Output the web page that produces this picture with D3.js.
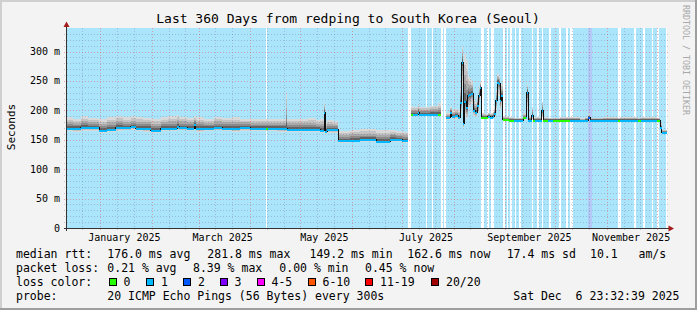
<!DOCTYPE html>
<html>
<head>
<meta charset="utf-8">
<script src="https://cdn.jsdelivr.net/npm/d3@7"></script>
<style>
  body { margin: 0; background: #fff; }
  text { font-family: "DejaVu Sans Mono", monospace; white-space: pre; }
</style>
</head>
<body>
<div id="chart"></div>
<script>
// DATA (days are counted from the left edge of the graph, 360 days before "now")

const sampleDay = [
  0, 3.6, 8.2, 12.6, 19.2, 24, 29.2, 33.6, 38.2, 41.2, 45.6, 50.2, 56.2, 60.6, 66.2, 67.2,
  72, 76.2, 77.2, 82.2, 88.2, 93, 99, 103.8, 109.8, 117, 119.4, 120.6, 126, 131.4, 132,
  138.6, 144.6, 149.4, 151.8, 154.2, 155, 156, 159.6, 162.8, 169.8, 175.8, 185.4, 193.8,
  197.4, 201, 204.8,
  206.2, 207.4, 210.6, 211.4, 218, 222.4, 224.2,
  227.4, 229.8, 230.8, 232.8, 234.8, 236, 236.8, 237.6, 238.4, 239.4, 240.4, 241.4, 242.6,
  243.8, 245, 246, 247, 247.8, 248.4, 251.4, 252.4, 253.8, 255.4, 256.4, 257.2, 258, 259,
  259.8, 260.6, 261.4, 265, 268, 273.8, 275.2, 275.8, 276.6, 278.8, 279.8, 281, 284.8,
  285.8, 288.6, 291.6, 295.8, 301.8, 307.8, 310.8, 312.8, 313.8, 321.6, 330.6, 331.8,
  342.6, 344.4, 353.8, 355.8, 356.8, 359.7
];

const medianMs = [
  170.5, 170, 171, 171, 166.7, 169, 171, 171, 172.6, 170, 170, 166.7, 170, 170.5, 174, 171,
  170.5, 176, 170, 170, 171, 170.5, 169.5, 171, 170, 170, 170, 170, 170, 169.5, 168.7,
  168.5, 169, 168, 166.7, 198, 165, 167.5, 167.5, 149, 150, 151, 148.5, 152,
  151, 149, null,
  194, 194, 198, 194, 194, 194, null,
  188, 197, 190, 192, 188, 215, 283, 178, 216, 205, 226, 227, 230,
  201, 198, 209, 226, 240, 189, 189, 191, 189, 191, 196, 218, 249, 246,
  218, 226, 185, 184, 184, 188, 188, 232, 184, 192, 184, 184, 200,
  184, 184, 184, 184, 184, 183, 184, 189, 184, 184, 184, 184,
  184, 184, 184, 172, 163, null
];

const smokeLo = [
  165, 164, 165, 165, 162, 164, 165, 166, 167, 165, 164, 162, 165, 165, 168, 166,
  165, 169, 164, 165, 166, 165, 164, 165, 165, 165, 165, 165, 164, 164, 163,
  163, 164, 163, 162, 185, 160, 162, 162, 145, 146, 147, 145, 147,
  146, 145, null,
  190, 190, 191, 190, 190, 190, null,
  184, 188, 186, 186, 184, 195, 240, 170, 190, 185, 200, 205, 210,
  190, 188, 195, 210, 220, 185, 185, 186, 185, 186, 188, 200, 225, 225,
  200, 205, 182, 182, 182, 184, 184, 200, 182, 185, 182, 182, 188,
  182, 182, 182, 182, 182, 181, 182, 184, 182, 182, 182, 182,
  182, 182, 182, 168, 161, null
];

const smokeHi = [
  188, 186, 190, 187, 185, 188, 191, 188, 190, 189, 187, 186, 188, 190, 192, 189,
  187, 191, 188, 186, 189, 187, 188, 186, 186, 185, 185, 186, 185, 231, 186,
  185, 187, 184, 186, 212, 180, 184, 182, 165, 166, 168, 166, 167,
  165, 164, null,
  207, 206, 210, 206, 208, 212, null,
  196, 205, 200, 202, 200, 240, 310, 235, 295, 285, 260, 255, 250,
  220, 215, 225, 242, 248, 195, 194, 196, 196, 198, 205, 235, 262, 258,
  240, 245, 190, 188, 187, 195, 200, 245, 190, 205, 188, 188, 215,
  188, 187, 187, 188, 188, 187, 188, 193, 187, 188, 187, 188,
  187, 188, 187, 178, 167, null
];

// packet loss class per sample (index into lossLabels)
const lossIdx = [
  1, 1, 1, 1, 1, 1, 1, 1, 1, 1, 1, 1, 1, 1, 1, 1,
  1, 1, 1, 1, 1, 1, 1, 1, 1, 1, 0, 1, 1, 1, 1,
  1, 1, 1, 1, 1, 1, 1, 1, 1, 1, 1, 1, 1,
  1, 1, null,
  0, 1, 1, 1, 1, 0, null,
  1, 1, 1, 1, 1, 1, 1, 1, 1, 1, 1, 1, 1,
  1, 1, 1, 1, 1, 0, 0, 1, 1, 1, 1, 1, 1, 1,
  1, 1, 0, 0, 1, 0, 1, 1, 1, 1, 0, 1, 1,
  0, 1, 0, 0, 1, 1, 1, 2, 1, 1, 0, 1,
  0, 1, 0, 1, 1, null
];

// day spans with no background fill
const gapDays = [
  [119.6, 120.2], [204.8, 206.2], [215.2, 216.2], [218.8, 219.6], [224.2, 225.6], [226.4, 227.6],
  [248.6, 250.2], [252, 253.2], [254.4, 256], [261.6, 262.8], [263.8, 264.8], [266, 267],
  [268.6, 269.4], [271.2, 272.2], [278.8, 279.6], [282, 283], [284.8, 285.8], [289.4, 290.6],
  [295.2, 296.4], [299.4, 300.6], [302, 303.3], [330.3, 332.1], [340.4, 341.6], [345.6, 347],
  [350.8, 351.8], [354, 355.2], [359.4, 360]
];
const shadeDays = [[312.8, 314.7]];

const yTicks = [0, 50, 100, 150, 200, 250, 300];
const lossLabels = ['0', '1', '2', '3', '4-5', '6-10', '11-19', '20/20'];
const lossColors = ['#26ff00', '#00b8ff', '#0059ff', '#7e00ff', '#ff00ff', '#ff5500', '#ff0000', '#a10000'];

const rttLegend = ['median rtt:', '176.0 ms avg', '281.8 ms max', '149.2 ms min', '162.6 ms now', '17.4 ms sd', '10.1   am/s'];
const lossLegend = ['packet loss:', '0.21 % avg', '8.39 % max', '0.00 % min', '0.45 % now'];
const probeLegend = ['probe:', '20 ICMP Echo Pings (56 Bytes) every 300s', 'Sat Dec  6 23:32:39 2025'];

// CHART

const W = 697, H = 310;
const plot = { left: 67, right: 667, top: 28, bottom: 228 };
const endTime = Date.UTC(2025, 11, 6, 23, 32, 39);
const startTime = endTime - 360 * 864e5;
const dayDate = d => new Date(startTime + d * 864e5);

const x = d3.scaleUtc().domain([startTime, endTime]).range([plot.left, plot.right]);
const y = d3.scaleLinear().domain([0, 340]).range([plot.bottom, plot.top]);
const xd = d => x(dayDate(d));

const svg = d3.select('#chart').append('svg')
  .attr('width', W).attr('height', H)
  .attr('shape-rendering', 'crispEdges');

// frame
svg.append('rect').attr('width', W).attr('height', H).attr('fill', '#f3f3f3');
svg.append('path').attr('d', `M0,0H${W}V2H2V${H}H0Z`).attr('fill', '#cfcfcf');
svg.append('path').attr('d', `M${W},${H}H0V${H - 2}H${W - 2}V0H${W}Z`).attr('fill', '#9e9e9e');

// canvas + background area
svg.append('rect').attr('x', plot.left).attr('y', plot.top)
  .attr('width', plot.right - plot.left).attr('height', plot.bottom - plot.top).attr('fill', '#fff');
svg.append('rect').attr('x', xd(0)).attr('y', plot.top)
  .attr('width', xd(359.4) - xd(0)).attr('height', plot.bottom - plot.top).attr('fill', '#aae5fb');
svg.selectAll('.gap').data(gapDays).enter().append('rect')
  .attr('x', d => xd(d[0])).attr('y', plot.top)
  .attr('width', d => xd(d[1]) - xd(d[0])).attr('height', plot.bottom - plot.top)
  .attr('fill', '#fff');
svg.selectAll('.shade').data(shadeDays).enter().append('rect')
  .attr('x', d => xd(d[0])).attr('y', plot.top)
  .attr('width', d => xd(d[1]) - xd(d[0])).attr('height', plot.bottom - plot.top)
  .attr('fill', '#b4cbfa');

const samples = sampleDay.map((d, i) => ({
  t0: d, t1: sampleDay[i + 1], med: medianMs[i], lo: smokeLo[i], hi: smokeHi[i], loss: lossIdx[i]
})).filter(s => s.med != null && s.t1 != null);

// smoke: nested bands, darker towards the median
const smokeShades = [[1, '#d9d9d9'], [0.78, '#c3c3c3'], [0.56, '#a9a9a9'], [0.36, '#8b8b8b'], [0.18, '#636363']];
smokeShades.forEach(([f, col]) => {
  svg.append('g').selectAll('rect').data(samples).enter().append('rect')
    .attr('x', d => xd(d.t0))
    .attr('width', d => Math.max(1, xd(d.t1) - xd(d.t0)))
    .attr('y', d => y(d.med + (d.hi - d.med) * f))
    .attr('height', d => y(d.med - (d.med - d.lo) * f) - y(d.med + (d.hi - d.med) * f))
    .attr('fill', col);
});

// grid: minor every 10 ms / on the 11th and 21st, major every 50 ms / each month
const grid = svg.append('g');
const minorY = d3.range(10, 340, 10);
const months = d3.utcMonth.range(new Date(startTime - 40 * 864e5), new Date(endTime));
const tens = months.flatMap(m => [d3.utcDay.offset(m, 10), d3.utcDay.offset(m, 20)])
  .filter(d => d > startTime && d < endTime);
const majorMonths = months.filter(d => d > startTime);
const minorCol = 'rgba(120,120,150,0.38)', majorCol = 'rgba(225,90,90,0.5)';

grid.selectAll('.hmin').data(minorY.filter(v => v % 50)).enter().append('line')
  .attr('x1', plot.left - 3).attr('x2', plot.right + 3)
  .attr('y1', d => Math.round(y(d)) + 0.5).attr('y2', d => Math.round(y(d)) + 0.5)
  .attr('stroke', minorCol).attr('stroke-dasharray', '1,2');
grid.selectAll('.vmin').data(tens).enter().append('line')
  .attr('x1', d => Math.round(x(d)) + 0.5).attr('x2', d => Math.round(x(d)) + 0.5)
  .attr('y1', plot.top).attr('y2', plot.bottom + 3)
  .attr('stroke', minorCol).attr('stroke-dasharray', '1,2');
grid.selectAll('.hmaj').data(yTicks.filter(v => v > 0)).enter().append('line')
  .attr('x1', plot.left - 3).attr('x2', plot.right + 3)
  .attr('y1', d => Math.round(y(d)) + 0.5).attr('y2', d => Math.round(y(d)) + 0.5)
  .attr('stroke', majorCol).attr('stroke-dasharray', '1,2');
grid.selectAll('.vmaj').data(majorMonths).enter().append('line')
  .attr('x1', d => Math.round(x(d)) + 0.5).attr('x2', d => Math.round(x(d)) + 0.5)
  .attr('y1', plot.top).attr('y2', plot.bottom + 3)
  .attr('stroke', majorCol).attr('stroke-dasharray', '1,2');

// median: black step line, then loss-coloured segments
const runs = [];
let run = [];
sampleDay.forEach((d, i) => {
  if (medianMs[i] == null) {
    if (run.length) { run.push([d, run[run.length - 1][1]]); runs.push(run); run = []; }
  } else run.push([d, medianMs[i]]);
});
const stepLine = d3.line().x(d => xd(d[0])).y(d => Math.round(y(d[1])) + 0.5).curve(d3.curveStepAfter);
svg.selectAll('.run').data(runs).enter().append('path')
  .attr('d', stepLine).attr('fill', 'none').attr('stroke', '#111').attr('stroke-width', 1);
svg.append('g').selectAll('rect').data(samples).enter().append('rect')
  .attr('x', d => xd(d.t0))
  .attr('width', d => Math.max(1, xd(d.t1) - xd(d.t0)))
  .attr('y', d => Math.round(y(d.med)) - 0.5)
  .attr('height', 2)
  .attr('fill', d => lossColors[d.loss]);

// axes
svg.append('line').attr('x1', plot.left - 0.5).attr('x2', plot.left - 0.5)
  .attr('y1', plot.bottom + 3).attr('y2', plot.top - 3).attr('stroke', '#333');
svg.append('line').attr('x1', plot.left - 3).attr('x2', plot.right + 5)
  .attr('y1', plot.bottom + 0.5).attr('y2', plot.bottom + 0.5).attr('stroke', '#333');
svg.append('path').attr('d', `M${plot.left - 0.5},21.5L${plot.left - 3.5},27L${plot.left + 2.5},27Z`)
  .attr('fill', '#a31c1c').attr('shape-rendering', 'auto');
svg.append('path').attr('d', `M${plot.right + 7},${plot.bottom + 0.5}L${plot.right + 1.5},${plot.bottom - 2.5}L${plot.right + 1.5},${plot.bottom + 3.5}Z`)
  .attr('fill', '#a31c1c').attr('shape-rendering', 'auto');

svg.selectAll('.ylab').data(yTicks).enter().append('text')
  .attr('x', 60).attr('y', d => y(d) + 3.5)
  .attr('text-anchor', 'end').attr('font-size', 10).attr('fill', '#000')
  .text(d => d === 0 ? '0' : d + ' m');

const labelMonths = majorMonths.filter(m => m.getUTCMonth() % 2 === 0);
svg.selectAll('.xlab').data(labelMonths).enter().append('text')
  .attr('x', d => x(d3.utcDay.offset(d, 15)) - 1).attr('y', 240.5)
  .attr('text-anchor', 'middle').attr('font-size', 10)
  .text(d => d3.utcFormat('%B %Y')(d));

svg.append('text').attr('x', 348).attr('y', 23).attr('text-anchor', 'middle')
  .attr('font-size', 13).text('Last 360 Days from redping to South Korea (Seoul)');
svg.append('text').attr('transform', 'translate(14.5,127) rotate(-90)')
  .attr('text-anchor', 'middle').attr('font-size', 11).text('Seconds');
svg.append('text').attr('transform', 'translate(683,5) rotate(90)')
  .attr('font-size', 8.3).attr('fill', '#a8a8a8').text('RRDTOOL / TOBI OETIKER');

// legend
const leg = svg.append('g').attr('font-size', 11.5);
const rttX = [16, 107.3, 207.3, 309.5, 407.3, 506.7, 590];
leg.selectAll('.rtt').data(rttLegend).enter().append('text')
  .attr('x', (d, i) => rttX[i]).attr('y', 258).text(d => d);
const lossX = [16, 107.3, 193, 279.3, 365];
leg.selectAll('.pl').data(lossLegend).enter().append('text')
  .attr('x', (d, i) => lossX[i]).attr('y', 272).text(d => d);
leg.append('text').attr('x', 16).attr('y', 286).text('loss color:');
const boxX = [108.5, 146, 183, 219.5, 256.5, 307.5, 365, 431];
lossLabels.forEach((l, i) => {
  leg.append('rect').attr('x', boxX[i] + 0.5).attr('y', 278.5).attr('width', 7).attr('height', 7)
    .attr('fill', lossColors[i]).attr('stroke', '#000');
  leg.append('text').attr('x', boxX[i] + 15).attr('y', 286).text(l);
});
const probeX = [16, 107.3, 513.3];
leg.selectAll('.pr').data(probeLegend).enter().append('text')
  .attr('x', (d, i) => probeX[i]).attr('y', 300).text(d => d);
</script>
</body>
</html>
